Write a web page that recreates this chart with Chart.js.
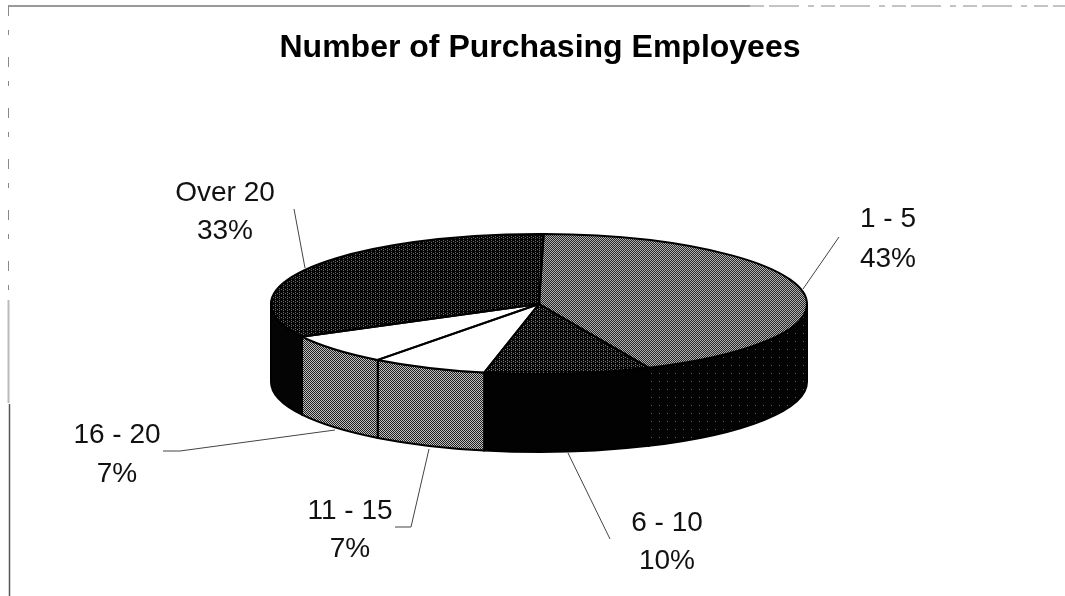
<!DOCTYPE html>
<html>
<head>
<meta charset="utf-8">
<title>Number of Purchasing Employees</title>
<script src="https://cdn.jsdelivr.net/npm/chart.js@4/dist/chart.umd.js"></script>
<style>
  html, body { margin: 0; padding: 0; background: #fff; }
  #wrap { width: 1065px; height: 596px; }
</style>
</head>
<body>
<div id="wrap"><canvas id="pieChart" width="1065" height="596"></canvas></div>
<script>
const categories = ['1 - 5', '6 - 10', '11 - 15', '16 - 20', 'Over 20']
const percents = [43, 10, 7, 7, 33]

// label centre x, first baseline, second baseline
const labelSpots = [
  [888, 227, 267],
  [667, 531, 569],
  [350, 519, 557],
  [117, 443, 482],
  [225, 201, 239],
]
const leaders = [
  [[803, 289], [839, 237]],
  [[568, 453], [610, 539]],
  [[429, 449], [411, 527], [395, 527]],
  [[335, 430], [180, 451], [163, 451]],
  [[305, 268], [294, 209]],
]

// where the flat pie ends up on the page
const pieX = 539
const pieY = 304
const pieR = 268
const squash = 70 / 268
const depth = 78

// small dither tiles, to get the look of the scanned halftone
function tile(size, paint, counterSquash) {
  const c = document.createElement('canvas')
  c.width = size
  c.height = size
  const t = c.getContext('2d')
  for (let y = 0; y < size; y++) {
    for (let x = 0; x < size; x++) {
      t.fillStyle = paint(x, y)
      t.fillRect(x, y, 1, 1)
    }
  }
  const p = t.createPattern(c, 'repeat')
  if (counterSquash) p.setTransform(new DOMMatrix().scale(1, 1 / squash))
  return p
}
const checker = (dark, light) => (x, y) => ((x + y) % 2 ? light : dark)
const speckle = (dark, light) => (x, y) => ((x % 4 === 0 && y % 2 === 0) || (x % 4 === 2 && y % 4 === 1) ? light : dark)
const sparse = (dark, light) => (x, y) => ((x % 8 === 3 && y % 8 === 5) ? light : dark)

const topFills = [
  tile(2, checker('#1c1c1c', '#bcbcbc'), true),
  tile(4, speckle('#060606', '#808080'), true),
  '#ffffff',
  '#ffffff',
  tile(4, speckle('#040404', '#707070'), true),
]
const wallFills = [
  tile(8, sparse('#030303', '#606060')),
  '#020202',
  tile(2, checker('#1e1e1e', '#c0c0c0')),
  tile(2, checker('#1e1e1e', '#c0c0c0')),
  '#040404',
]

function tilt(ctx, arc) {
  ctx.translate(pieX, pieY)
  ctx.scale(1, squash)
  ctx.translate(-arc.x, -arc.y)
}

function strokePath(ctx, points, color, width) {
  ctx.strokeStyle = color
  ctx.lineWidth = width
  ctx.beginPath()
  points.forEach(([x, y], k) => (k ? ctx.lineTo(x, y) : ctx.moveTo(x, y)))
  ctx.stroke()
}

const tiltedPie = {
  id: 'tiltedPie',
  beforeDatasetsDraw(chart) {
    const ctx = chart.ctx
    const arcs = chart.getDatasetMeta(0).data
    // walls first, only the part of each slice facing the viewer
    arcs.forEach((arc, i) => {
      const a = Math.max(arc.startAngle, 0)
      const b = Math.min(arc.endAngle, Math.PI)
      if (b <= a) return
      ctx.save()
      ctx.beginPath()
      ctx.ellipse(pieX, pieY, pieR, pieR * squash, 0, a, b)
      ctx.ellipse(pieX, pieY + depth, pieR, pieR * squash, 0, b, a, true)
      ctx.closePath()
      ctx.fillStyle = wallFills[i]
      ctx.fill()
      ctx.strokeStyle = '#000'
      ctx.lineWidth = 2
      ctx.stroke()
      ctx.restore()
    })
    ctx.save()
    tilt(ctx, arcs[0])
  },
  afterDatasetsDraw(chart) {
    const ctx = chart.ctx
    ctx.restore()
    const arcs = chart.getDatasetMeta(0).data
    // slice outlines, stroked after the squash so they keep an even width
    arcs.forEach(arc => {
      ctx.save()
      tilt(ctx, arc)
      ctx.beginPath()
      ctx.moveTo(arc.x, arc.y)
      ctx.arc(arc.x, arc.y, arc.outerRadius, arc.startAngle, arc.endAngle)
      ctx.closePath()
      ctx.restore()
      ctx.strokeStyle = '#000'
      ctx.lineWidth = 2
      ctx.stroke()
    })

    ctx.save()
    // page frame left over from the scan
    strokePath(ctx, [[8, 6], [750, 6]], '#777', 1.5)
    ctx.setLineDash([14, 5, 30, 9, 6, 7])
    strokePath(ctx, [[750, 6], [1065, 6]], '#888', 1)
    ctx.setLineDash([10, 14, 5, 22])
    strokePath(ctx, [[8.5, 6], [8.5, 300]], '#888', 1)
    ctx.setLineDash([])
    strokePath(ctx, [[8.5, 300], [8.5, 403]], '#bbb', 2)
    strokePath(ctx, [[9.5, 404], [9.5, 596]], '#555', 1.5)

    leaders.forEach(line => strokePath(ctx, line, '#444', 1))

    ctx.fillStyle = '#111'
    ctx.font = '28px "Liberation Sans", Arial, sans-serif'
    ctx.textAlign = 'center'
    ctx.textBaseline = 'alphabetic'
    categories.forEach((name, i) => {
      const [x, y1, y2] = labelSpots[i]
      ctx.fillText(name, x, y1)
      ctx.fillText(percents[i] + '%', x, y2)
    })
    ctx.restore()
  }
}

new Chart(document.getElementById('pieChart'), {
  type: 'pie',
  data: {
    labels: categories,
    datasets: [{
      data: percents,
      backgroundColor: topFills,
      borderWidth: 0,
      radius: pieR,
      clip: false
    }]
  },
  options: {
    responsive: false,
    animation: false,
    rotation: 1,
    layout: { padding: { left: 15 } },
    plugins: {
      legend: { display: false },
      tooltip: { enabled: false },
      title: {
        display: true,
        text: 'Number of Purchasing Employees',
        color: '#000',
        font: { family: '"Liberation Sans", Arial, sans-serif', size: 32, weight: 'bold' },
        padding: { top: 29, bottom: 10 }
      }
    }
  },
  plugins: [tiltedPie]
})
</script>
</body>
</html>
